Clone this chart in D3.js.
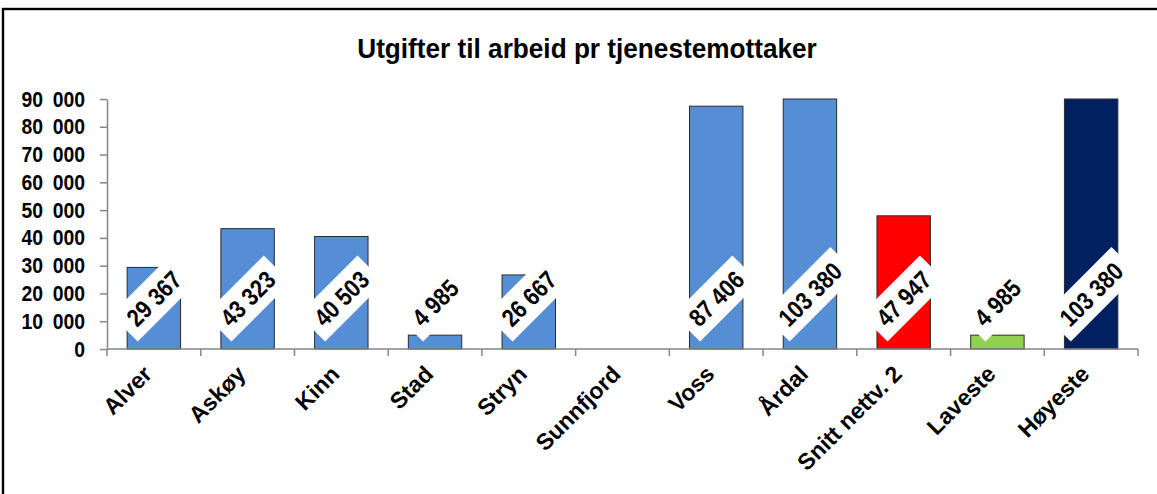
<!DOCTYPE html>
<html>
<head>
<meta charset="utf-8">
<script src="https://cdn.jsdelivr.net/npm/d3@7"></script>
<style>
  html, body { margin: 0; padding: 0; background: #fff; }
  svg { display: block; font-family: "Liberation Sans", Arial, sans-serif; }
</style>
</head>
<body>
<svg id="chart" width="1157" height="494"></svg>
<script>
const title = "Utgifter til arbeid pr tjenestemottaker";
const categories = ["Alver", "Askøy", "Kinn", "Stad", "Stryn", "Sunnfjord", "Voss", "Årdal", "Snitt nettv. 2", "Laveste", "Høyeste"];
const values = [29367, 43323, 40503, 4985, 26667, null, 87406, 103380, 47947, 4985, 103380];
const barColors = ["#558ED5", "#558ED5", "#558ED5", "#558ED5", "#558ED5", "#558ED5", "#558ED5", "#558ED5", "#FF0000", "#92D050", "#002060"];
const yTicks = [0, 10000, 20000, 30000, 40000, 50000, 60000, 70000, 80000, 90000];
const yMax = 90000;

const svg = d3.select("#chart");
const plot = { left: 107, right: 1138, top: 99, bottom: 349 };

// frame
svg.append("rect")
  .attr("x", 3).attr("y", 9)
  .attr("width", 1180).attr("height", 520)
  .attr("fill", "none").attr("stroke", "#000").attr("stroke-width", 2.4);

// title
svg.append("text")
  .attr("transform", "translate(587,58) scale(0.97,1)")
  .attr("text-anchor", "middle")
  .attr("font-size", 27).attr("font-weight", "bold")
  .attr("fill", "#000")
  .text(title);

const x = d3.scaleBand()
  .domain(categories)
  .range([plot.left, plot.right])
  .paddingInner(0.43)
  .paddingOuter(0.215);

const y = d3.scaleLinear()
  .domain([0, yMax])
  .range([plot.bottom, plot.top])
  .clamp(true);

const nf = d3.formatLocale({ decimal: ",", thousands: " ", grouping: [3], currency: ["", " kr"] }).format(",d");
const tickFmt = d => d === 0 ? "0" : nf(d).replace(" ", "\u2002");

// bars
const data = categories.map((c, i) => ({ c, v: values[i], color: barColors[i] }));
svg.append("g")
  .selectAll("rect")
  .data(data.filter(d => d.v != null))
  .join("rect")
  .attr("x", d => x(d.c))
  .attr("y", d => y(d.v))
  .attr("width", x.bandwidth())
  .attr("height", d => plot.bottom - y(d.v))
  .attr("fill", d => d.color)
  .attr("stroke", "#2b2b2b")
  .attr("stroke-width", 1);

// y axis
const yAxis = svg.append("g")
  .attr("transform", `translate(${plot.left},0)`)
  .call(d3.axisLeft(y).tickValues(yTicks).tickFormat(tickFmt).tickSize(7).tickPadding(15).tickSizeOuter(0));
yAxis.select(".domain").attr("stroke", "#868686").attr("stroke-width", 1.5);
yAxis.selectAll(".tick line").attr("stroke", "#868686").attr("stroke-width", 1.5);
yAxis.selectAll(".tick text")
  .attr("font-size", 22).attr("font-weight", "bold")
  .attr("font-family", "Liberation Sans, Arial, sans-serif")
  .attr("fill", "#000")
  .attr("x", null)
  .attr("transform", "translate(-22,0) scale(0.88,1)");

// x axis line with ticks at band boundaries
const xAxisG = svg.append("g");
xAxisG.append("line")
  .attr("x1", plot.left).attr("x2", plot.right)
  .attr("y1", plot.bottom).attr("y2", plot.bottom)
  .attr("stroke", "#868686").attr("stroke-width", 1.5);
const step = x.step();
const boundaries = d3.range(categories.length + 1).map(i => x(categories[0]) - x.paddingOuter() * step + i * step);
xAxisG.selectAll("line.tk")
  .data(boundaries)
  .join("line")
  .attr("class", "tk")
  .attr("x1", d => d).attr("x2", d => d)
  .attr("y1", plot.bottom).attr("y2", plot.bottom + 7)
  .attr("stroke", "#868686").attr("stroke-width", 1.5);

// category labels
xAxisG.selectAll("text.cat")
  .data(categories)
  .join("text")
  .attr("class", "cat")
  .attr("transform", d => `translate(${x(d) + x.bandwidth() / 2 - 12},${plot.bottom + 15}) rotate(-45)`)
  .attr("text-anchor", "end")
  .attr("dy", "0.71em")
  .attr("font-size", 23).attr("font-weight", "bold")
  .attr("fill", "#000")
  .text(d => d);

// data labels in white rotated boxes
const lblG = svg.append("g");
data.filter(d => d.v != null).forEach(d => {
  const cx = x(d.c) + x.bandwidth() / 2;
  const g = lblG.append("g");
  const rect = g.append("rect").attr("fill", "#fff");
  const t = g.append("text")
    .attr("text-anchor", "middle")
    .attr("dy", "0.36em")
    .attr("font-size", 25).attr("font-weight", "bold")
    .attr("fill", "#000")
    .attr("transform", "scale(0.86,1)")
    .text(nf(d.v));
  const tw = t.node().getComputedTextLength() * 0.86;
  const bw = tw + 18, bh = 38;
  rect.attr("x", -bw / 2).attr("y", -bh / 2).attr("width", bw).attr("height", bh);
  const cy = 341.5 - (bw + bh) / (2 * Math.SQRT2);
  g.attr("transform", `translate(${cx},${cy}) rotate(-45)`);
});
</script>
</body>
</html>
